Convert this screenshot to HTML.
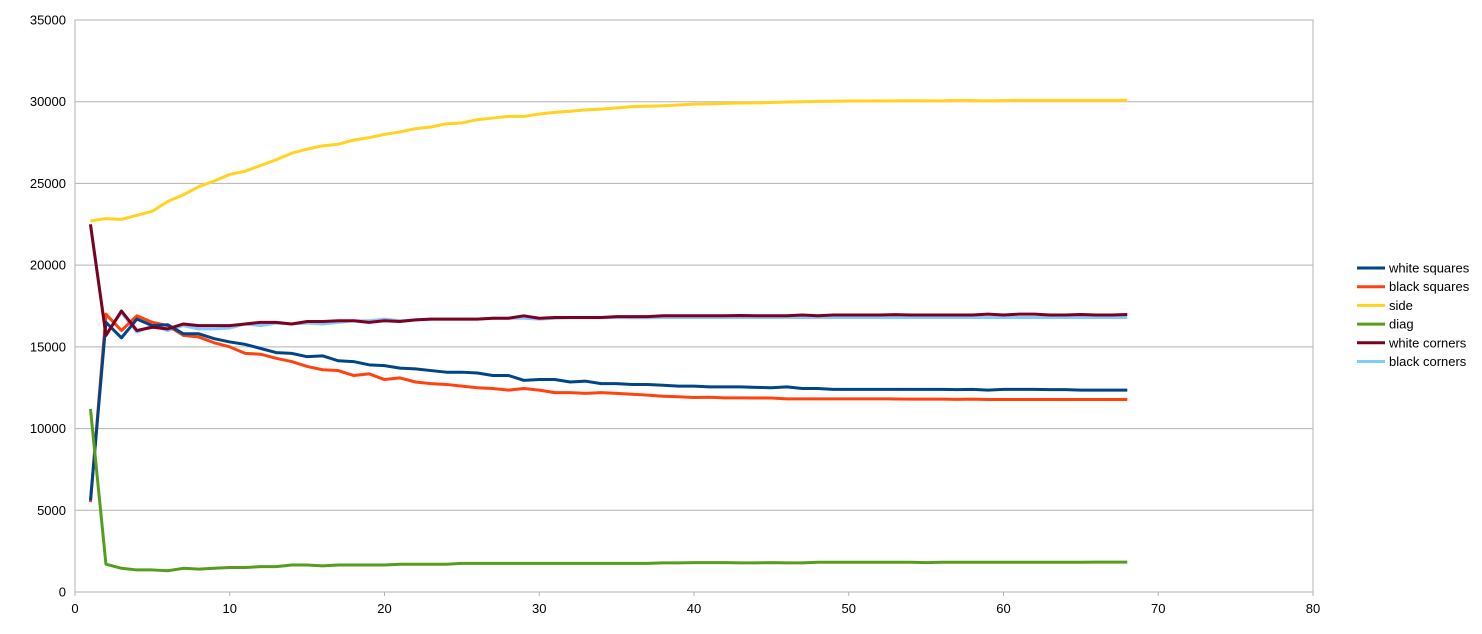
<!DOCTYPE html>
<html><head><meta charset="utf-8"><style>
body{margin:0;background:#fff;font-family:"Liberation Sans",sans-serif}
svg text{font-family:"Liberation Sans",sans-serif;font-size:13px;fill:#000}
</style></head><body>
<svg id="chart" width="1482" height="629" xmlns="http://www.w3.org/2000/svg">
<rect width="1482" height="629" fill="#fff"/>
<g id="grid"></g><g id="axes"></g><g id="series"></g><g id="legend"></g>
</svg>
<script>
const xTicks=[0,10,20,30,40,50,60,70,80];
const yTicks=[0,5000,10000,15000,20000,25000,30000,35000];
const seriesNames=["white squares","black squares","side","diag","white corners","black corners"];
const seriesColors=["#004586","#ff420e","#ffd320","#579d1c","#7e0021","#83caff"];
const whiteSquares=[5600,16500,15550,16700,16300,16350,15800,15800,15500,15300,15150,14900,14650,14600,14400,14450,14150,14100,13900,13850,13700,13650,13550,13450,13450,13400,13250,13250,12950,13000,13000,12850,12900,12750,12750,12700,12700,12650,12600,12600,12550,12550,12550,12520,12500,12550,12450,12450,12400,12400,12400,12400,12400,12400,12400,12400,12380,12400,12350,12400,12400,12400,12380,12380,12350,12350,12350,12350];
const blackSquares=[5500,17000,16000,16900,16500,16300,15700,15600,15250,15000,14600,14550,14300,14100,13800,13600,13550,13250,13350,13000,13100,12850,12750,12700,12600,12500,12450,12350,12450,12350,12200,12200,12150,12200,12150,12100,12050,11980,11950,11900,11920,11880,11880,11870,11870,11820,11820,11820,11820,11820,11820,11820,11810,11800,11800,11800,11790,11800,11780,11780,11780,11780,11780,11780,11780,11780,11780,11780];
const side=[22700,22850,22800,23050,23300,23900,24300,24800,25150,25550,25750,26100,26450,26850,27100,27300,27400,27650,27800,28000,28150,28350,28450,28650,28700,28900,29000,29100,29100,29250,29350,29420,29500,29550,29620,29700,29720,29750,29800,29850,29870,29900,29920,29930,29950,29980,30000,30020,30030,30040,30040,30050,30050,30060,30050,30050,30080,30070,30050,30070,30080,30080,30080,30080,30080,30080,30080,30080];
const diag=[11200,1700,1450,1350,1350,1300,1450,1400,1450,1500,1500,1550,1550,1650,1650,1600,1650,1650,1650,1650,1700,1700,1700,1700,1750,1750,1750,1750,1750,1750,1750,1750,1750,1750,1750,1750,1750,1780,1780,1800,1800,1800,1780,1780,1800,1780,1780,1820,1820,1820,1820,1820,1820,1820,1800,1820,1820,1820,1820,1820,1820,1820,1820,1820,1820,1830,1830,1830];
const whiteCorners=[22500,15700,17200,16000,16200,16100,16400,16300,16300,16300,16400,16500,16500,16400,16550,16550,16600,16600,16500,16600,16550,16650,16700,16700,16700,16700,16750,16750,16900,16750,16800,16800,16800,16800,16850,16850,16850,16900,16900,16900,16900,16900,16920,16900,16900,16900,16950,16900,16950,16950,16950,16950,16970,16950,16950,16950,16950,16950,17000,16950,17000,17000,16950,16950,16980,16950,16950,16980];
const blackCorners=[22450,15800,17100,15900,16300,16000,16300,16100,16100,16150,16400,16300,16450,16400,16450,16400,16500,16600,16600,16700,16600,16650,16700,16700,16700,16700,16750,16750,16750,16700,16750,16780,16780,16780,16800,16780,16780,16800,16800,16800,16800,16800,16800,16800,16800,16800,16800,16800,16800,16800,16800,16800,16800,16800,16800,16800,16800,16800,16800,16800,16800,16800,16800,16800,16800,16800,16800,16800];
const allSeries=[whiteSquares,blackSquares,side,diag,whiteCorners,blackCorners];
const drawOrder=[5,1,0,2,3,4];
const NS="http://www.w3.org/2000/svg";
const X0=75,X1=1313,Y0=592,Y1=20;
const xs=v=>X0+(v-0)/(80-0)*(X1-X0);
const ys=v=>Y0-(v-0)/(35000-0)*(Y0-Y1);
function mk(p,t){const e=document.createElementNS(NS,t);p.appendChild(e);return e;}
const grid=document.getElementById('grid'),axes=document.getElementById('axes');
yTicks.forEach(t=>{
 const l=mk(grid,'line');
 
 
 l.setAttribute('x1',X0);l.setAttribute('x2',X1);l.setAttribute('y1',ys(t));l.setAttribute('y2',ys(t));
 l.setAttribute('stroke','#b3b3b3');l.setAttribute('stroke-width','1');
 const tx=mk(axes,'text');
 
 
 tx.setAttribute('x',X0-9);tx.setAttribute('y',ys(t)+4.5);tx.setAttribute('text-anchor','end');tx.textContent=t;
});
xTicks.forEach(t=>{
 const l=mk(grid,'line');
 
 
 l.setAttribute('x1',xs(t));l.setAttribute('x2',xs(t));l.setAttribute('y1',Y0);l.setAttribute('y2',Y0+4);
 l.setAttribute('stroke','#b3b3b3');
 const tx=mk(axes,'text');
 
 
 tx.setAttribute('x',xs(t));tx.setAttribute('y',Y0+21);tx.setAttribute('text-anchor','middle');tx.textContent=t;
});
const frame=mk(grid,'rect');


frame.setAttribute('x',X0);frame.setAttribute('y',Y1);frame.setAttribute('width',X1-X0);frame.setAttribute('height',Y0-Y1);
frame.setAttribute('fill','none');frame.setAttribute('stroke','#b3b3b3');
const sg=document.getElementById('series'),lg=document.getElementById('legend');
drawOrder.forEach(i=>{
 const d=allSeries[i];
 const p=mk(sg,'polyline');
 
 
 p.setAttribute('points',d.map((v,j)=>xs(j+1)+','+ys(v)).join(' '));
 p.setAttribute('fill','none');p.setAttribute('stroke',seriesColors[i]);p.setAttribute('stroke-width','3');p.setAttribute('stroke-linejoin','round');
});
seriesNames.forEach((n,i)=>{
 const y=268+i*18.7;
 const ll=mk(lg,'line');
 
 
 ll.setAttribute('x1',1357);ll.setAttribute('x2',1385);ll.setAttribute('y1',y);ll.setAttribute('y2',y);
 ll.setAttribute('stroke',seriesColors[i]);ll.setAttribute('stroke-width','3');
 const lt=mk(lg,'text');
 
 
 lt.setAttribute('x',1389);lt.setAttribute('y',y+4.5);lt.textContent=n;
});
</script>
</body></html>
